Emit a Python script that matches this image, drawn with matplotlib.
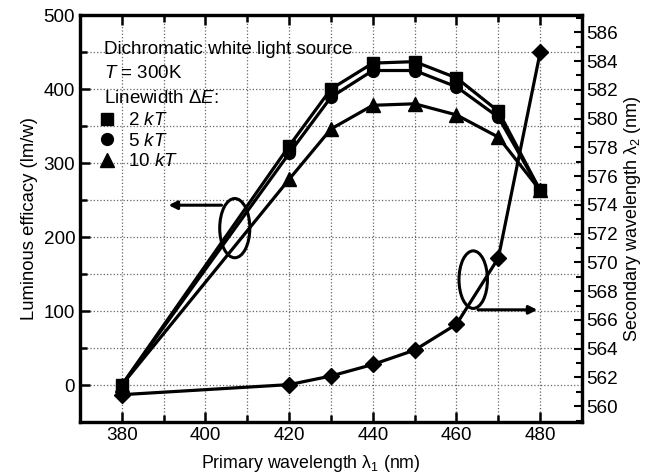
import numpy as np
import matplotlib
matplotlib.use("Agg")
import matplotlib.pyplot as plt
from matplotlib.lines import Line2D
from matplotlib.patches import Ellipse
from matplotlib.ticker import MultipleLocator

plt.rcParams["font.family"] = ["Liberation Sans", "DejaVu Sans"]
plt.rcParams["mathtext.fontset"] = "custom"
plt.rcParams["mathtext.rm"] = "Liberation Sans"
plt.rcParams["mathtext.it"] = "Liberation Sans:italic"

# primary wavelength (nm)
lam1 = [380, 420, 430, 440, 450, 460, 470, 480]
# luminous efficacy (lm/W) for each linewidth
eff_2kT = [0, 323, 400, 435, 437, 415, 370, 263]
eff_5kT = [0, 313, 389, 425, 425, 403, 362, 263]
eff_10kT = [0, 278, 346, 378, 380, 365, 335, 263]
# secondary wavelength (nm)
lam2 = [560.8, 561.5, 562.1, 562.9, 563.9, 565.7, 570.3, 584.6]

fig = plt.figure(figsize=(6.6, 4.72), dpi=100)
ax = fig.add_axes([0.1212, 0.1059, 0.7606, 0.8623])
ax2 = ax.twinx()

lw = 2.3
ax.plot(lam1, eff_2kT, color="k", lw=lw, marker="s", ms=8.5)
ax.plot(lam1, eff_5kT, color="k", lw=lw, marker="o", ms=8.5)
ax.plot(lam1, eff_10kT, color="k", lw=lw, marker="^", ms=9.5)
ax2.plot(lam1, lam2, color="k", lw=lw, marker="D", ms=8)

ax.set_xlim(370, 490)
ax.set_ylim(-50, 500)
ax2.set_ylim(558.9, 587.2)

ax.xaxis.set_major_locator(MultipleLocator(20))
ax.xaxis.set_minor_locator(MultipleLocator(10))
ax.yaxis.set_major_locator(MultipleLocator(100))
ax.yaxis.set_minor_locator(MultipleLocator(50))
ax2.yaxis.set_major_locator(MultipleLocator(2))
ax2.yaxis.set_minor_locator(MultipleLocator(1))

ax.grid(True, which="both", ls=":", color="0.4", lw=0.9)
ax.set_axisbelow(True)

ax.tick_params(which="both", direction="in", top=True, right=False, labelsize=13.6, width=1.8)
ax.tick_params(which="major", length=7)
ax.tick_params(which="minor", length=5)
ax2.tick_params(which="both", direction="in", labelsize=13.6, width=1.5, pad=3)
ax2.tick_params(which="major", length=6)
ax2.tick_params(which="minor", length=4)
for a in (ax, ax2):
    for s in a.spines.values():
        s.set_linewidth(2.3)

ax.set_xlabel("Primary wavelength λ$_1$ (nm)", fontsize=12.8, labelpad=3)
ax.xaxis.set_label_coords(0.46, -0.075)
ax.set_ylabel("Luminous efficacy (lm/w)", fontsize=13.3, labelpad=4)
ax2.set_ylabel("Secondary wavelength λ$_2$ (nm)", fontsize=13, labelpad=3)

# header text and marker legend
ax.text(0.048, 0.905, "Dichromatic white light source", transform=ax.transAxes, fontsize=13.5)
ax.text(0.048, 0.845, "$T$ = 300K", transform=ax.transAxes, fontsize=13.5)
ax.text(0.048, 0.785, "Linewidth Δ$E$:", transform=ax.transAxes, fontsize=13.5)
handles = [
    Line2D([], [], color="k", ls="none", marker="s", ms=8.5),
    Line2D([], [], color="k", ls="none", marker="o", ms=8.5),
    Line2D([], [], color="k", ls="none", marker="^", ms=9.5),
]
ax.legend(handles, ["2 $kT$", "5 $kT$", "10 $kT$"], loc="upper left",
          bbox_to_anchor=(0.02, 0.78), frameon=False, fontsize=13.5,
          handlelength=1.0, handletextpad=0.6, labelspacing=0.18, borderaxespad=0)

# ellipses with arrows pointing to the matching axis
ax.add_patch(Ellipse((407, 212), 7.2, 80, fill=False, lw=2.2, color="k"))
ax.annotate("", xy=(390.5, 243), xytext=(404.5, 243),
            arrowprops=dict(arrowstyle="-|>", color="k", lw=2.2, mutation_scale=12))
ax2.add_patch(Ellipse((464.0, 568.8), 6.8, 4.0, fill=False, lw=2.2, color="k"))
ax2.annotate("", xy=(480, 566.7), xytext=(464.5, 566.7),
             arrowprops=dict(arrowstyle="-|>", color="k", lw=2.2, mutation_scale=12))

fig.savefig("out.png", dpi=100)
